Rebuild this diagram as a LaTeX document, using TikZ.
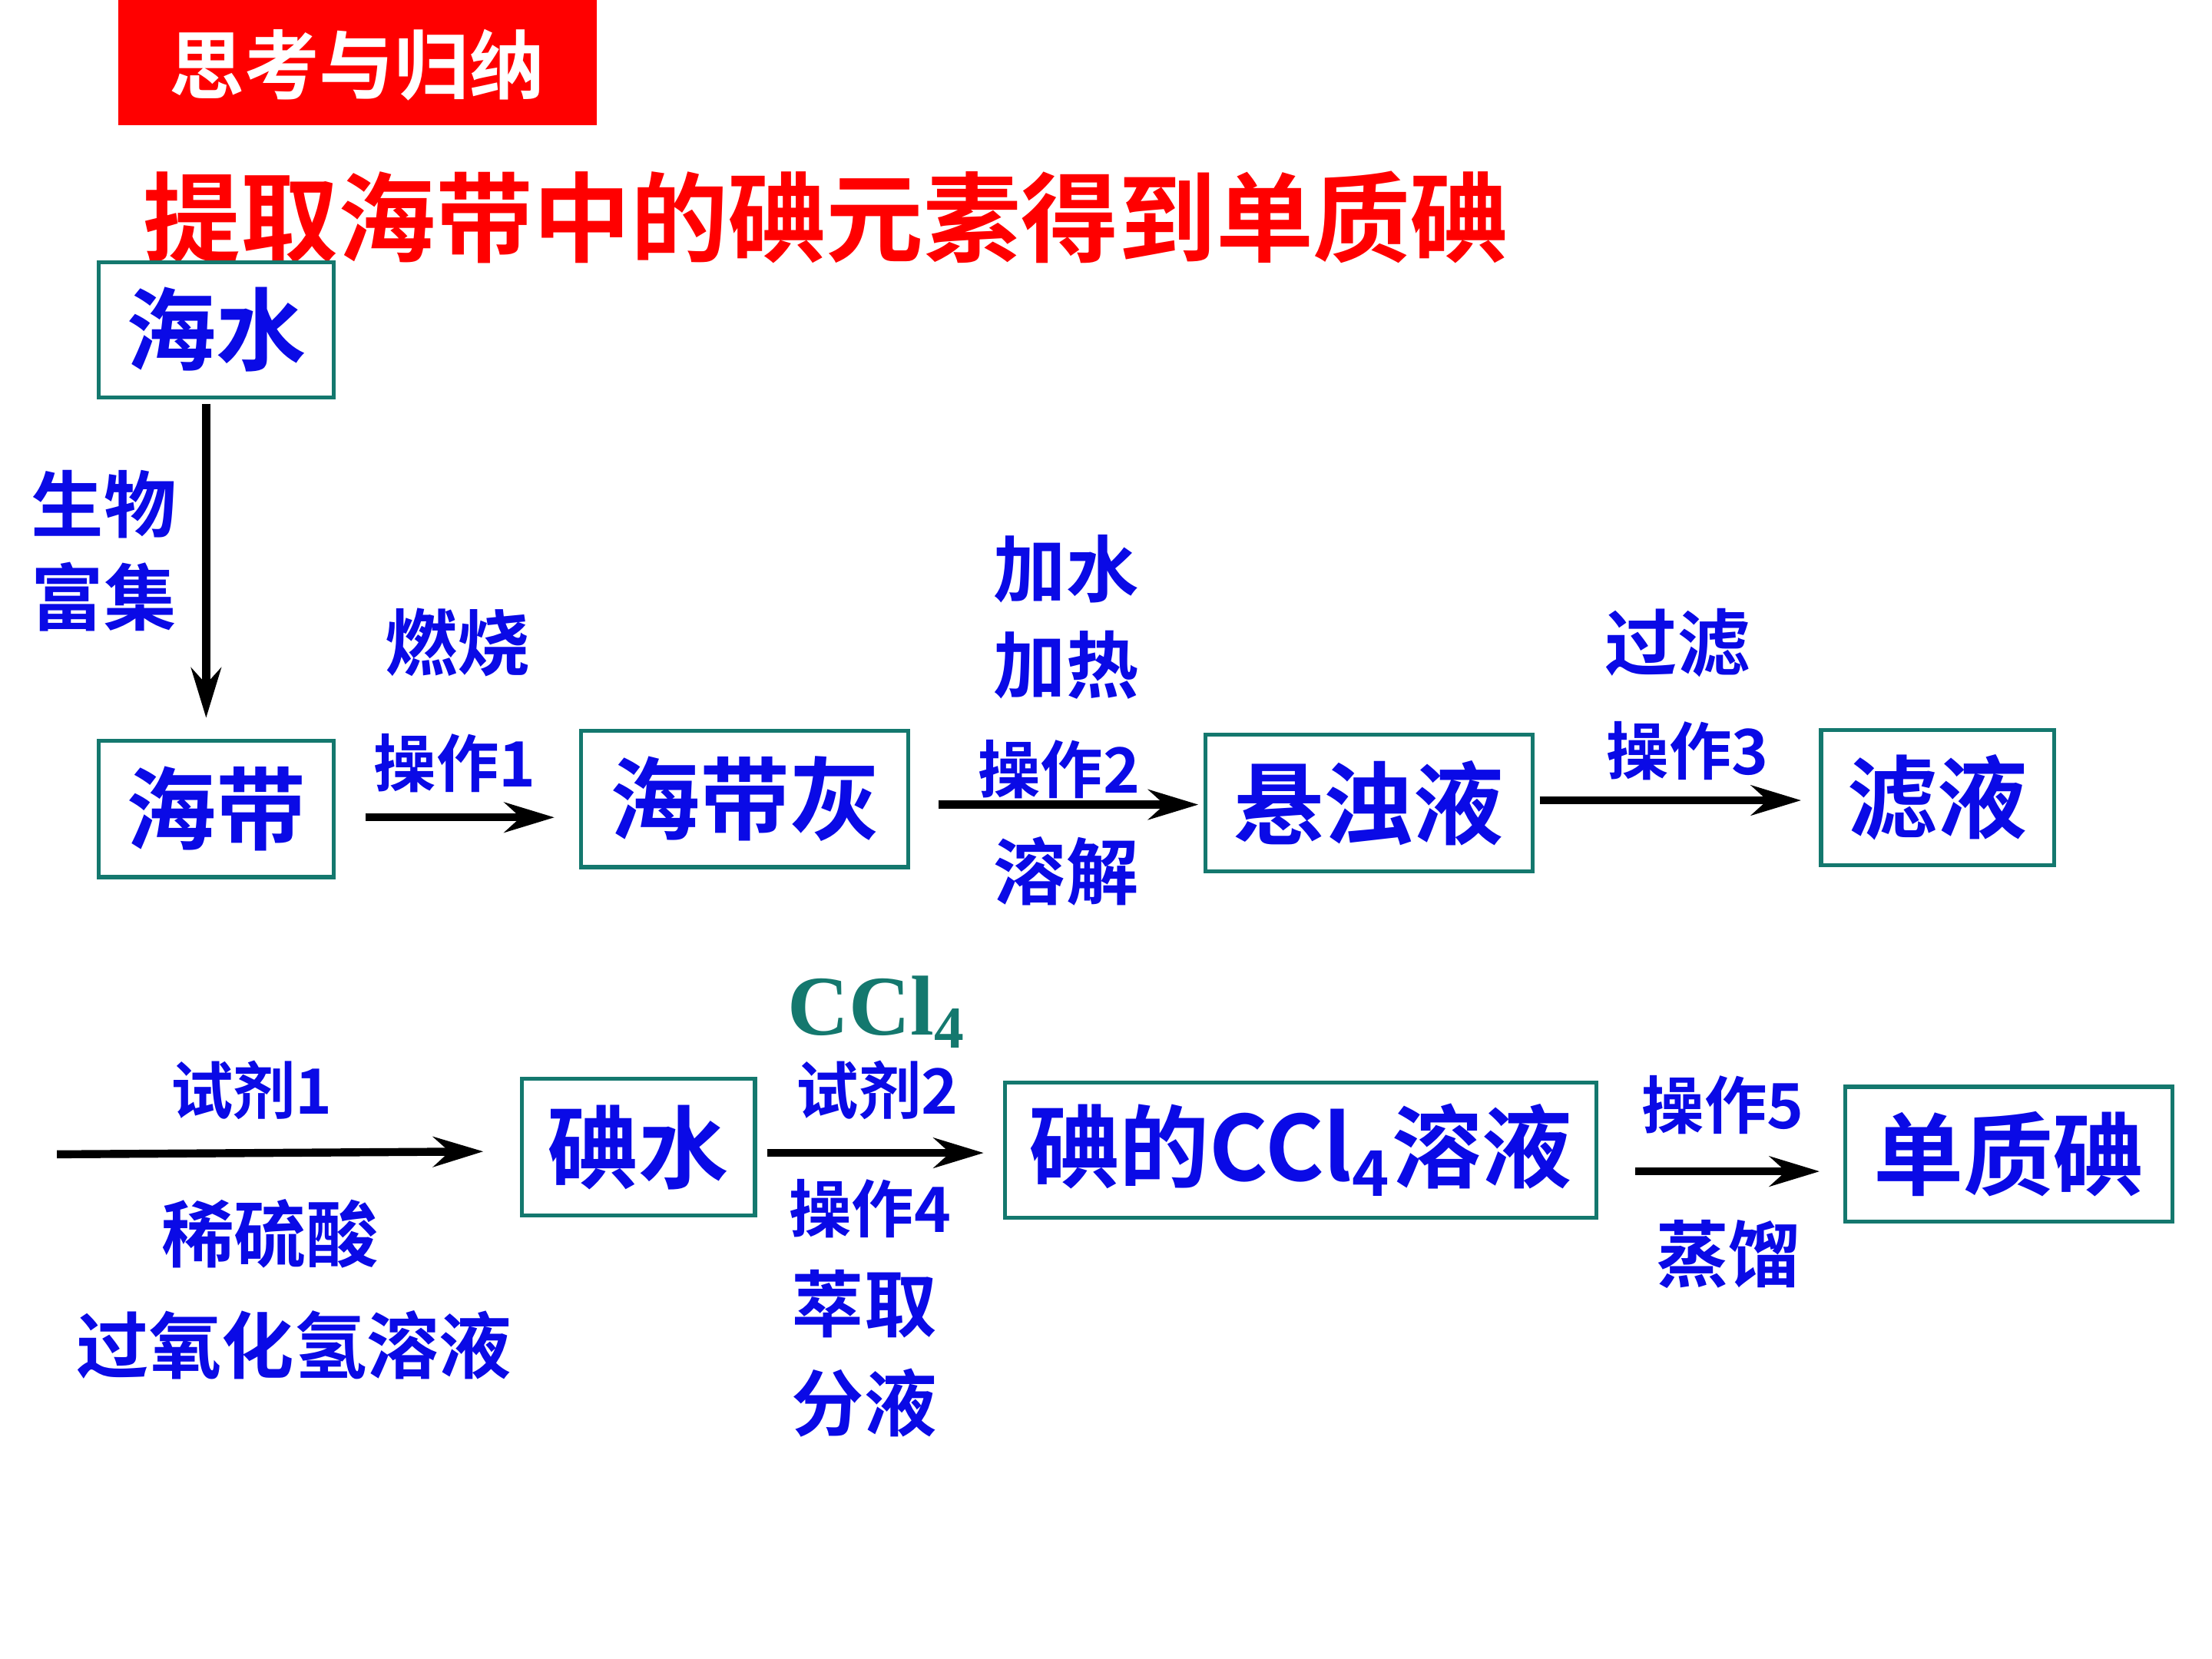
\documentclass[tikz,border=0pt]{standalone}
\usepackage{fontspec}
\newfontfamily\cjk{Noto Sans CJK SC Bold}
\setmainfont{Liberation Serif}
\usetikzlibrary{arrows.meta}
\definecolor{tb}{RGB}{10,10,230}
\definecolor{bx}{RGB}{20,120,110}
\begin{document}
\begin{tikzpicture}[x=0.01cm,y=-0.01cm,
 box/.style={draw=bx,line width=0.8pt,text=tb,font=\cjk\fontsize{18pt}{20pt}\selectfont,inner sep=0pt},
 lab/.style={text=tb,font=\cjk\fontsize{14.5pt}{16pt}\selectfont,inner sep=0pt},
 op/.style={text=tb,font=\cjk\fontsize{12.5pt}{14pt}\selectfont,inner sep=0pt},
 arr/.style={line width=1.6pt,-{Stealth[length=10pt,width=6pt]}}]
\useasboundingbox (0,0) rectangle (1556,1167);
\fill[red] (83,0) rectangle (420,88);
\node[text=white,font=\cjk\fontsize{15pt}{16pt}\selectfont] (t0) at (251,46) {思考与归纳};
\node[text=red,font=\cjk\fontsize{19.5pt}{22pt}\selectfont,inner sep=0pt] (t1) at (581,153) {提取海带中的碘元素得到单质碘};
\node[box,minimum width=1.65cm,minimum height=0.95cm] (hs) at (152,232) {海水};
\node[box,minimum width=1.65cm,minimum height=0.96cm] (hd) at (152,569) {海带};
\node[box,minimum width=2.3cm,minimum height=0.96cm] (hdh) at (524,562) {海带灰};
\node[box,minimum width=2.3cm,minimum height=0.96cm] (xzy) at (963,565) {悬浊液};
\node[box,minimum width=1.64cm,minimum height=0.95cm] (ly) at (1363,561) {滤液};
\node[box,minimum width=1.64cm,minimum height=0.96cm] (ds) at (449,807) {碘水};
\node[box,minimum width=4.16cm,minimum height=0.95cm] (dc) at (915,809) {碘的CCl\textsubscript{4}溶液};
\node[box,minimum width=2.3cm,minimum height=0.95cm] (dz) at (1413,812) {单质碘};
\coordinate (s0) at (40,812);
\coordinate (s1) at (340,810);
\draw[arr] (145,284) -- (145,505);
\draw[arr] (257,575) -- (390,575);
\draw[arr] (660,566) -- (843,566);
\draw[arr] (1083,563) -- (1267,563);
\draw[arr] (s0) -- (s1);
\draw[arr] (540,811) -- (692,811);
\draw[arr] (1150,824) -- (1280,824);
\node[lab] (l1) at (73,355) {生物};
\node[lab] (l2) at (73,420) {富集};
\node[lab] (l3) at (322,452) {燃烧};
\node[op] (o1) at (320,537) {操作1};
\node[lab] (l4) at (750,400) {加水};
\node[lab] (l5) at (750,468) {加热};
\node[op] (o2) at (745,541) {操作2};
\node[lab] (l6) at (750,613) {溶解};
\node[lab] (l7) at (1180,452) {过滤};
\node[op] (o3) at (1187,528) {操作3};
\node[op] (o4) at (177,767) {试剂1};
\node[lab] (l8) at (190,868) {稀硫酸};
\node[lab] (l9) at (207,946) {过氧化氢溶液};
\node[text=bx,font=\bfseries\fontsize{17pt}{18pt}\selectfont,inner sep=0pt] (cc) at (617,712) {CCl\textsubscript{4}};
\node[op] (o5) at (617,767) {试剂2};
\node[op] (o6) at (612,850) {操作4};
\node[lab] (l10) at (608,917) {萃取};
\node[lab] (l11) at (608,987) {分液};
\node[op] (o7) at (1212,777) {操作5};
\node[lab] (l12) at (1216,882) {蒸馏};
\end{tikzpicture}
\end{document}
